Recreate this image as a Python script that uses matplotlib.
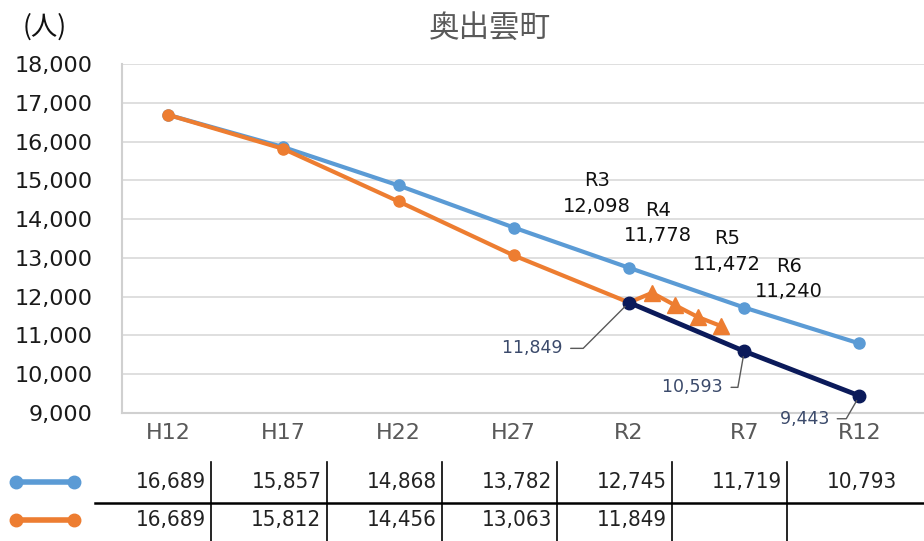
import numpy as np
import matplotlib
matplotlib.use("Agg")
import matplotlib.pyplot as plt
import matplotlib.lines as mlines
import matplotlib.transforms as mtransforms

plt.rcParams['font.family'] = ['DejaVu Sans', 'Noto Sans CJK JP']

# census years and population (people)
years = ["H12", "H17", "H22", "H27", "R2", "R7", "R12"]
projected = [16689, 15857, 14868, 13782, 12745, 11719, 10793]
actual = [16689, 15812, 14456, 13063, 11849]
recent_labels = ["R3", "R4", "R5", "R6"]
recent = [12098, 11778, 11472, 11240]
outlook_years = ["R2", "R7", "R12"]
outlook = [11849, 10593, 9443]

BLUE = "#5B9BD5"
ORANGE = "#ED7D31"
NAVY = "#0B1A5A"
GRAY = "#595959"

fig = plt.figure(figsize=(9.24, 5.41), dpi=100)
ax = fig.add_axes([122 / 924, 1 - 413 / 541, (924 - 122) / 924, (413 - 64) / 541])

x = np.arange(len(years))
ax.plot(x, projected, color=BLUE, lw=3, marker="o", ms=8, zorder=3)
ax.plot(x[:len(actual)], actual, color=ORANGE, lw=3, marker="o", ms=8, zorder=4)

# yearly estimates after R2, spaced one fifth of a census interval apart
xr = x[len(actual) - 1] + 0.2 * np.arange(1, len(recent) + 1)
ax.plot(np.r_[x[len(actual) - 1], xr], [actual[-1]] + recent, color=ORANGE, lw=3,
        zorder=4)
ax.plot(xr, recent, ls="none", marker="^", ms=12, color=ORANGE, zorder=4)

xo = [years.index(y) for y in outlook_years]
ax.plot(xo, outlook, color=NAVY, lw=3.5, marker="o", ms=9, zorder=5)

# labels for the yearly estimates
label_pos = [(3.72, 14660), (4.25, 13900), (4.85, 13165), (5.39, 12455)]
for (lx, ly), name, val in zip(label_pos, recent_labels, recent):
    ax.text(lx, ly, f"{name}\n{val:,}", ha="center", va="center", fontsize=14,
            color="#111111", linespacing=1.45, zorder=6)

# callouts on the outlook line (offsets in points)
callouts = [(-44, -33, 45), (-11.5, -26, 80), (-18, -16.5, 60)]
for xi, val, (dx, dy, ang) in zip(xo, outlook, callouts):
    ax.annotate(f"{val:,} ", xy=(xi, val), xytext=(dx, dy), textcoords="offset points",
                ha="right", va="center", fontsize=12.5, color="#3B4A6B",
                arrowprops=dict(arrowstyle="-", color=GRAY, lw=1, shrinkA=0, shrinkB=4,
                                relpos=(1, 0.5),
                                connectionstyle=f"angle,angleA=0,angleB={ang},rad=0"),
                zorder=6)

ax.set_xlim(-0.4, 6.56)
ax.set_ylim(9000, 18000)
ax.set_yticks(np.arange(9000, 18001, 1000))
ax.yaxis.set_major_formatter(matplotlib.ticker.StrMethodFormatter("{x:,.0f}"))
ax.set_xticks(x)
ax.set_xticklabels(years)
ax.tick_params(axis="y", length=0, pad=21, labelsize=16, labelcolor="#1A1A1A")
ax.tick_params(axis="x", length=0, pad=7, labelsize=16, labelcolor=GRAY)
ax.grid(axis="y", color="#D9D9D9", lw=1.2)
ax.set_axisbelow(True)
for s in ["top", "right"]:
    ax.spines[s].set_visible(False)
ax.spines["left"].set_color("#D0D0D0")
ax.spines["bottom"].set_color("#D0D0D0")
ax.spines["left"].set_linewidth(1.5)
ax.spines["bottom"].set_linewidth(1.5)

fig.text(490 / 924, 1 - 28 / 541, "奥出雲町", ha="center", va="center", fontsize=22,
         color=GRAY, family=["Noto Sans CJK JP", "DejaVu Sans"])
fig.text(45 / 924, 1 - 27 / 541, "(人)", ha="center", va="center", fontsize=19,
         color="#111111", family=["Noto Sans CJK JP", "DejaVu Sans"])

# data table under the chart
tr = mtransforms.blended_transform_factory(ax.transData, fig.transFigure)
row_y = [1 - 482 / 541, 1 - 520 / 541]
for vals, yy in zip([projected, actual], row_y):
    for xi, v in enumerate(vals):
        fig.text(xi + 0.33, yy, f"{v:,}", transform=tr, ha="right", va="center",
                 fontsize=16, color="#222222", fontstretch="condensed",
                 family=["Liberation Sans Narrow", "DejaVu Sans"])
for xi in x[:-1]:
    fig.add_artist(mlines.Line2D([xi + 0.375, xi + 0.375], [0, 1 - 462 / 541],
                                 transform=tr, color="black", lw=1.2))
fig.add_artist(mlines.Line2D([95 / 924, 1], [1 - 503 / 541] * 2,
                             transform=fig.transFigure, color="black", lw=1.8))
for color, yy in zip([BLUE, ORANGE], row_y):
    fig.add_artist(mlines.Line2D([16 / 924, 74 / 924], [yy, yy], transform=fig.transFigure,
                                 color=color, lw=4, marker="o", ms=9))

plt.savefig("out.png", dpi=100)
